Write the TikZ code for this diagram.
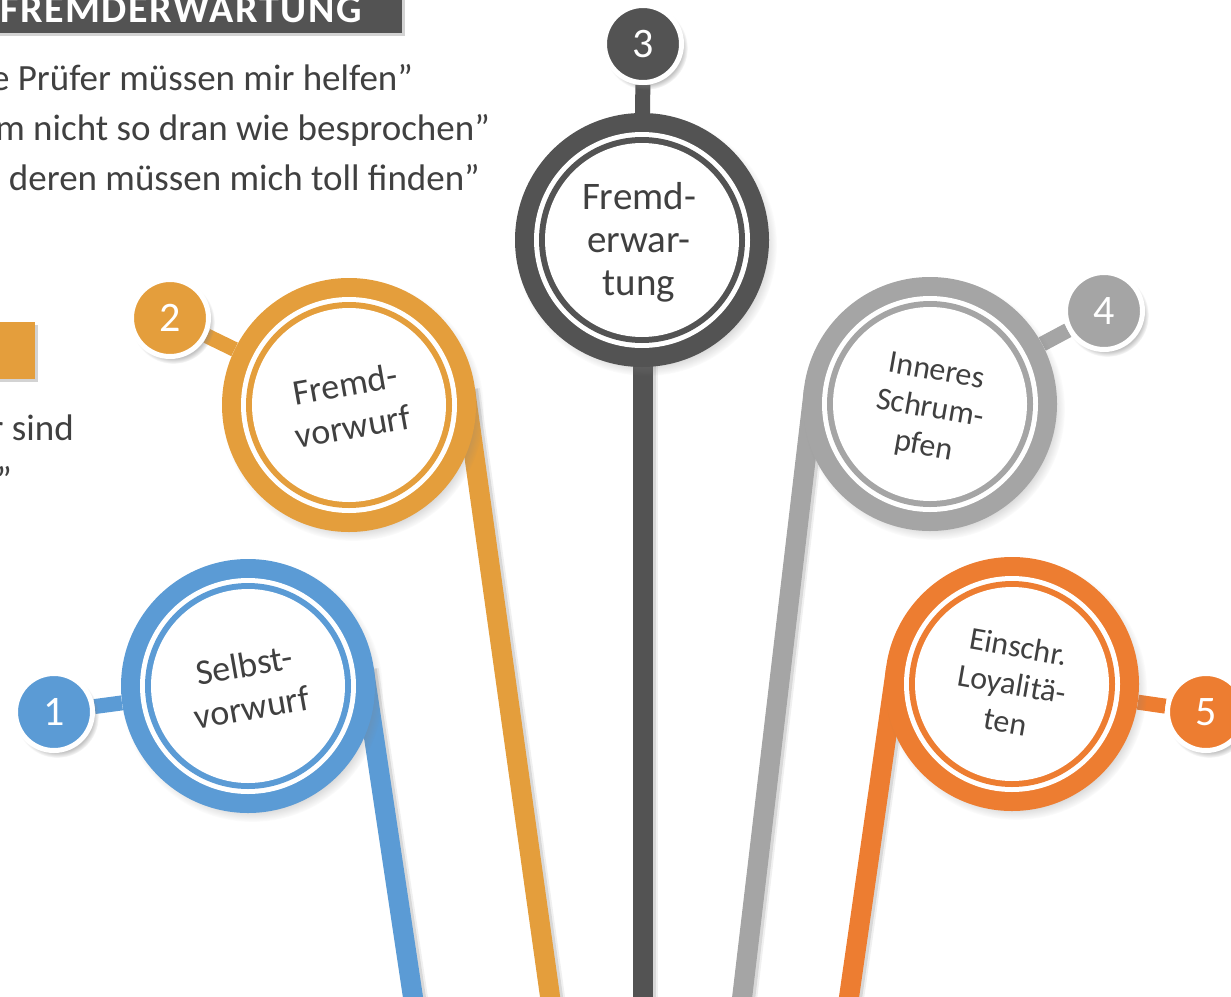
\documentclass[tikz,border=0pt]{standalone}
\usepackage{fontspec}
\setmainfont{Carlito}
\usetikzlibrary{shadows,calc}
\definecolor{blueC}{HTML}{5B9BD5}
\definecolor{goldC}{HTML}{E49E3C}
\definecolor{darkC}{HTML}{535353}
\definecolor{grayC}{HTML}{A5A5A5}
\definecolor{orangeC}{HTML}{ED7D31}
\definecolor{txtC}{HTML}{404040}
\pgfdeclarelayer{bg}
\pgfsetlayers{bg,main}
\newcommand\innerrings[2]{%
  \fill[white] (#1.center) circle (108pt);
  \fill[#2] (#1.center) circle (103pt);
  \fill[white] (#1.center) circle (97pt);}
\begin{document}
\begin{tikzpicture}[x=1pt,y=-1pt,
  bigc/.style={circle, minimum size=254pt, inner sep=0pt, fill=#1,
    circular drop shadow={shadow xshift=4pt, shadow yshift=-5pt, shadow scale=1.03, opacity=.5}},
  smallc/.style={circle, minimum size=77pt, inner sep=0pt, fill=#1, draw=white, line width=5pt,
    text=white, font=\fontsize{42}{42}\selectfont,
    circular drop shadow={shadow xshift=3pt, shadow yshift=-4pt, shadow scale=1.08, opacity=.5}},
  ctext/.style={text=txtC, align=center, font=\fontsize{36}{43}\selectfont},
  ctextbig/.style={text=txtC, align=center, font=\fontsize{39}{43}\selectfont},
  ctextsm/.style={text=txtC, align=center, font=\fontsize{32}{38}\selectfont},
  body/.style={text=txtC, anchor=base east, font=\fontsize{37}{52}\selectfont, inner sep=0pt},
  link/.style={line width=15pt, draw=#1},
  stemline/.style={line width=20pt, draw=#1},
  stemshadow/.style={line width=20pt, draw=black, opacity=.10}
]
\path[use as bounding box] (0,0) rectangle (1231,996);
\clip (0,0) rectangle (1231,996);

% header box and left texts
\node[fill=darkC, minimum width=500pt, minimum height=80pt, inner sep=0pt, anchor=south east,
  drop shadow={shadow xshift=3pt, shadow yshift=-3pt, opacity=.35}] (hbox) at (402,33) {};
\node[anchor=base east, inner sep=0pt, text=white,
  font=\fontsize{40}{40}\selectfont\bfseries\addfontfeature{LetterSpace=4}] (htxt) at (362,22) {FREMDERWARTUNG};
\node[body] (l1) at (413,90) {e Prüfer müssen mir helfen”};
\node[body] (l2) at (490,140) {m nicht so dran wie besprochen”};
\node[body] (l3) at (480,190) {deren müssen mich toll finden”};
\node[fill=goldC, minimum width=100pt, minimum height=57pt, inner sep=0pt, anchor=north east,
  drop shadow={shadow xshift=3pt, shadow yshift=-3pt, opacity=.35}] (obox) at (35,322) {};
\node[body] (l4) at (74,440) {r sind};
\node[body] (l5) at (12,492) {”};

% big circles
\node[bigc=blueC] (c1) at (248,686) {};
\node[bigc=goldC] (c2) at (349,405) {};
\node[bigc=darkC] (c3) at (642,240) {};
\node[bigc=grayC] (c4) at (930,404) {};
\node[bigc=orangeC] (c5) at (1012,684) {};
\innerrings{c1}{blueC}
\innerrings{c2}{goldC}
\innerrings{c3}{darkC}
\innerrings{c4}{grayC}
\innerrings{c5}{orangeC}
\node[ctext, rotate=10] (t1) at (c1) {Selbst-\\vorwurf};
\node[ctext, rotate=10] (t2) at (c2) {Fremd-\\vorwurf};
\node[ctextbig] (t3) at ($(c3)+(-3,2)$) {Fremd-\\erwar-\\tung};
\node[ctextsm, rotate=-10] (t4) at ($(c4)+(0,6)$) {Inneres\\Schrum-\\pfen};
\node[ctextsm, rotate=-10] (t5) at (c5) {Einschr.\\Loyalitä-\\ten};

% small numbered circles
\node[smallc=blueC] (s1) at (54,712) {1};
\node[smallc=goldC] (s2) at (170,318) {2};
\node[smallc=darkC] (s3) at (643,44) {3};
\node[smallc=grayC] (s4) at (1104,311) {4};
\node[smallc=orangeC] (s5) at (1206,712) {5};

% stem end points (tangent to the rings)
\coordinate (a1) at (363.7,668.7);
\coordinate (b1) at (415.2,1012);
\coordinate (a2) at (464.9,388.7);
\coordinate (b2) at (552.2,1012);
\coordinate (a3) at (643,240);
\coordinate (b3) at (643,1012);
\coordinate (a4) at (813.8,390.3);
\coordinate (b4) at (740.4,1012);
\coordinate (a5) at (896.2,667.4);
\coordinate (b5) at (846.9,1012);
\begin{pgfonlayer}{bg}
  \clip (0,0) rectangle (1231,996);
  \foreach \i in {1,...,5} {\draw[stemshadow] ($(a\i)+(3,1)$) -- ($(b\i)+(3,1)$);
    \draw[stemshadow, line width=22pt, opacity=.06] ($(a\i)+(4,1)$) -- ($(b\i)+(4,1)$);}
  \draw[stemline=blueC] (a1) -- (b1);
  \draw[stemline=goldC] (a2) -- (b2);
  \draw[stemline=darkC] (a3) -- (b3);
  \draw[stemline=grayC] (a4) -- (b4);
  \draw[stemline=orangeC] (a5) -- (b5);
  \draw[link=blueC] (s1) -- (c1);
  \draw[link=goldC] (s2) -- (c2);
  \draw[link=darkC] (s3) -- (c3);
  \draw[link=grayC] (s4) -- (c4);
  \draw[link=orangeC] (s5) -- (c5);
\end{pgfonlayer}
\end{tikzpicture}
\end{document}
